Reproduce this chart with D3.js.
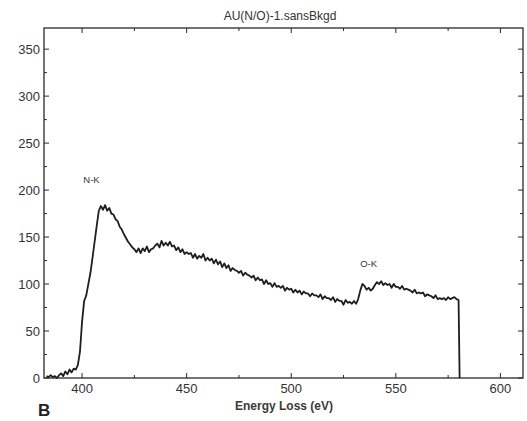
<!DOCTYPE html>
<html>
<head>
<meta charset="utf-8">
<script src="https://cdn.jsdelivr.net/npm/d3@7"></script>
<style>
  body { margin: 0; background: #fff; }
  svg { display: block; font-family: "Liberation Sans", Arial, sans-serif; }
</style>
</head>
<body>
<svg width="527" height="421"></svg>
<script>
// spectrum, 1 eV steps
const energy = [
  383,384,385,386,387,388,389,390,391,392,393,394,395,396,397,398,399,400,401,402,
  403,404,405,406,407,408,409,410,411,412,413,414,415,416,417,418,419,420,421,422,
  423,424,425,426,427,428,429,430,431,432,433,434,435,436,437,438,439,440,441,442,
  443,444,445,446,447,448,449,450,451,452,453,454,455,456,457,458,459,460,461,462,
  463,464,465,466,467,468,469,470,471,472,473,474,475,476,477,478,479,480,481,482,
  483,484,485,486,487,488,489,490,491,492,493,494,495,496,497,498,499,500,501,502,
  503,504,505,506,507,508,509,510,511,512,513,514,515,516,517,518,519,520,521,522,
  523,524,525,526,527,528,529,530,531,532,533,534,535,536,537,538,539,540,541,542,
  543,544,545,546,547,548,549,550,551,552,553,554,555,556,557,558,559,560,561,562,
  563,564,565,566,567,568,569,570,571,572,573,574,575,576,577,578,579,580,580.5
];
const counts = [
  2,1,3,1,2,0,3,5,2,7,4,9,6,10,9,14,28,60,82,88,
  100,112,128,145,162,178,183,179,184,178,181,175,174,169,167,161,158,153,149,145,
  142,139,137,134,138,133,138,135,140,134,137,138,141,143,139,146,141,144,141,145,
  140,141,136,139,134,137,132,134,132,133,128,132,127,130,128,132,125,128,125,127,
  122,126,121,124,118,122,117,120,114,117,115,114,112,114,109,112,110,109,107,109,
  104,107,104,105,100,104,100,101,97,101,97,98,96,98,93,96,94,95,91,94,
  91,93,89,92,90,90,87,90,88,88,86,89,84,87,85,85,83,86,81,84,
  82,82,78,83,80,81,79,82,79,84,93,100,98,94,96,93,95,99,102,100,
  103,99,101,99,100,96,100,97,97,95,98,94,95,94,93,91,94,90,91,90,
  91,87,89,88,87,85,88,84,85,84,85,83,86,84,85,86,84,83,0
];

const xTicks = [400, 450, 500, 550, 600];
const yTicks = [0, 50, 100, 150, 200, 250, 300, 350];
const peakLabels = [
  { text: "N-K", e: 404.5, v: 208 },
  { text: "O-K", e: 537, v: 118 }
];
const title = "AU(N/O)-1.sansBkgd";
const xTitle = "Energy Loss (eV)";

const svg = d3.select("svg");
const frame = { left: 44, right: 523, top: 28, bottom: 378 };

const x = d3.scaleLinear().domain([381.8, 610.8]).range([frame.left, frame.right]);
const y = d3.scaleLinear().domain([0, 372.5]).range([frame.bottom, frame.top]);

const ink = "#2a2a2a";

// frame
svg.append("rect")
  .attr("x", frame.left).attr("y", frame.top)
  .attr("width", frame.right - frame.left).attr("height", frame.bottom - frame.top)
  .attr("fill", "none").attr("stroke", ink).attr("stroke-width", 1.3);

const minorX = d3.range(375, 611, 25).filter(v => v >= 381.8);
const minorY = d3.range(0, 372, 25);

// ticks all point inward
function tickLines(g, vals, fn) {
  g.selectAll("line").data(vals).join("line")
    .each(function(d) {
      const c = fn(d);
      d3.select(this).attr("x1", c[0]).attr("y1", c[1]).attr("x2", c[2]).attr("y2", c[3]);
    })
    .attr("stroke", ink).attr("stroke-width", 1);
}
const isMajor = (v) => v % 50 === 0;
tickLines(svg.append("g"), minorX, v => [x(v), frame.bottom, x(v), frame.bottom - (isMajor(v) ? 5 : 3)]);
tickLines(svg.append("g"), minorX, v => [x(v), frame.top, x(v), frame.top + (isMajor(v) ? 5 : 3)]);
tickLines(svg.append("g"), minorY, v => [frame.left, y(v), frame.left + (isMajor(v) ? 5 : 3), y(v)]);
tickLines(svg.append("g"), minorY, v => [frame.right, y(v), frame.right - (isMajor(v) ? 5 : 3), y(v)]);

// tick labels
svg.append("g").selectAll("text").data(xTicks).join("text")
  .attr("x", d => x(d)).attr("y", 393)
  .attr("text-anchor", "middle").attr("font-size", 13).attr("fill", "#333")
  .text(d => d);

svg.append("g").selectAll("text").data(yTicks).join("text")
  .attr("x", 40).attr("y", d => y(d) + 4.5)
  .attr("text-anchor", "end").attr("font-size", 13).attr("fill", "#333")
  .text(d => d);

// spectrum
const line = d3.line().x((d, i) => x(energy[i])).y(d => y(d));
svg.append("path")
  .datum(counts)
  .attr("d", line)
  .attr("fill", "none")
  .attr("stroke", "#1e1e1e")
  .attr("stroke-width", 1.8)
  .attr("stroke-linejoin", "round");

// edge labels
svg.append("g").selectAll("text").data(peakLabels).join("text")
  .attr("x", d => x(d.e)).attr("y", d => y(d.v))
  .attr("text-anchor", "middle").attr("font-size", 9.5).attr("fill", "#333")
  .text(d => d.text);

svg.append("text")
  .attr("x", 280).attr("y", 20)
  .attr("text-anchor", "middle").attr("font-size", 12).attr("fill", "#333")
  .text(title);

svg.append("text")
  .attr("x", 284).attr("y", 410)
  .attr("text-anchor", "middle").attr("font-size", 12).attr("font-weight", "bold").attr("fill", "#3a3a3a")
  .text(xTitle);

svg.append("text")
  .attr("x", 38).attr("y", 416)
  .attr("font-size", 17).attr("font-weight", "bold").attr("fill", "#222")
  .text("B");
</script>
</body>
</html>
